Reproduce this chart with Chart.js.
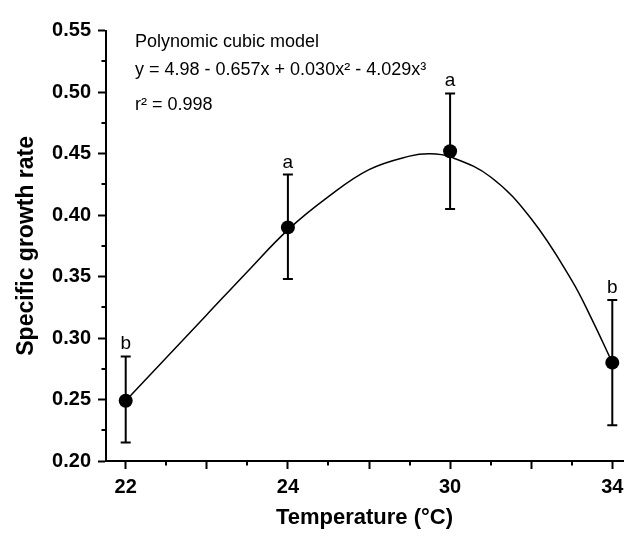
<!DOCTYPE html>
<html><head><meta charset="utf-8">
<script src="https://cdn.jsdelivr.net/npm/chart.js@4/dist/chart.umd.min.js"></script>
<style>html,body{margin:0;padding:0;background:#fff}canvas{display:block}</style>
</head><body>
<canvas id="c" width="630" height="536"></canvas>
<script>
// ---- data ----
const temperatures = ['22', '24', '30', '34'];
const growthRate = [0.249, 0.390, 0.452, 0.280];
const errorLow = [0.215, 0.348, 0.405, 0.229];
const errorHigh = [0.285, 0.433, 0.499, 0.331];
const groupLetters = ['b', 'a', 'a', 'b'];
const xTickLabels = ['22', '', '24', '', '30', '', '34'];
const yTickValues = [0.20, 0.25, 0.30, 0.35, 0.40, 0.45, 0.50, 0.55];
const yMinorValues = [0.225, 0.275, 0.325, 0.375, 0.425, 0.475, 0.525];
const curvePositions = [0, 0.5, 1, 1.5, 2, 2.5, 3, 3.5, 3.75, 4, 4.5, 5, 5.5, 5.75, 6];
const curveValues = [0.249, 0.284, 0.319, 0.354, 0.388, 0.415, 0.437, 0.448, 0.450, 0.4475, 0.431, 0.397, 0.347, 0.315, 0.280];
const annotationLines = ['Polynomic cubic model', 'y = 4.98 - 0.657x + 0.030x\u00B2 - 4.029x\u00B3', 'r\u00B2 = 0.998'];

const FONT = '"Liberation Sans", Arial, Helvetica, sans-serif';
const xPos = temperatures.map(t => xTickLabels.indexOf(t));

const overlay = {
  id: 'overlay',
  beforeDatasetsDraw(chart) {
    const {ctx, scales: {x, y}} = chart;
    ctx.save();
    ctx.strokeStyle = '#000';
    ctx.fillStyle = '#000';
    ctx.lineWidth = 2;
    ctx.beginPath();
    for (let k = 0; k < xTickLabels.length - 1; k++) {
      const px = Math.round(x.getPixelForValue(k + 0.5));
      ctx.moveTo(px, y.bottom); ctx.lineTo(px, y.bottom + 4.5);
    }
    yMinorValues.forEach(v => {
      const py = Math.round(y.getPixelForValue(v));
      ctx.moveTo(x.left - 4.5, py); ctx.lineTo(x.left, py);
    });
    ctx.stroke();
    temperatures.forEach((t, i) => {
      const px = x.getPixelForValue(xPos[i]);
      const lo = y.getPixelForValue(errorLow[i]);
      const hi = y.getPixelForValue(errorHigh[i]);
      ctx.beginPath();
      ctx.moveTo(px, lo); ctx.lineTo(px, hi);
      ctx.moveTo(px - 5, lo); ctx.lineTo(px + 5, lo);
      ctx.moveTo(px - 5, hi); ctx.lineTo(px + 5, hi);
      ctx.stroke();
      ctx.font = '19px ' + FONT;
      ctx.textAlign = 'center';
      ctx.textBaseline = 'alphabetic';
      ctx.fillText(groupLetters[i], px, hi - 7);
    });
    ctx.font = '18px ' + FONT;
    ctx.textAlign = 'left';
    const baselines = [47, 75, 110];
    annotationLines.forEach((s, i) => ctx.fillText(s, x.left + 29, baselines[i]));
    ctx.restore();
  }
};

new Chart(document.getElementById('c'), {
  type: 'scatter',
  data: {
    datasets: [
      {
        label: 'means',
        data: growthRate.map((v, i) => ({x: xPos[i], y: v})),
        pointRadius: 7, pointHoverRadius: 7,
        backgroundColor: '#000', borderColor: '#000', borderWidth: 0,
        showLine: false, order: 1
      },
      {
        label: 'cubic fit',
        data: curveValues.map((v, i) => ({x: curvePositions[i], y: v})),
        showLine: true, tension: 0.4,
        borderColor: '#000', borderWidth: 1.5, pointRadius: 0, fill: false, order: 2
      }
    ]
  },
  options: {
    responsive: false,
    animation: false,
    devicePixelRatio: 1,
    layout: {padding: {top: 30.7, right: 1, left: 0, bottom: 0}},
    plugins: {legend: {display: false}, tooltip: {enabled: false}},
    scales: {
      x: {
        type: 'linear', min: -0.243, max: 6.132, bounds: 'data',
        afterBuildTicks: s => { s.ticks = xTickLabels.map((_, i) => ({value: i})); },
        afterFit: s => { s.height = 75; },
        ticks: {
          autoSkip: false, maxRotation: 0, padding: 6, color: '#000',
          font: {family: FONT, size: 20, weight: 'bold'},
          callback: v => xTickLabels[Math.round(v)]
        },
        grid: {display: true, drawOnChartArea: false, drawTicks: true, tickLength: 8, tickWidth: 2, tickColor: '#000'},
        border: {display: true, color: '#000', width: 2},
        title: {display: true, text: 'Temperature (\u00B0C)', color: '#000',
          font: {family: FONT, size: 22, weight: 'bold'}, padding: {top: 0, bottom: 5}}
      },
      y: {
        min: 0.2, max: 0.55, bounds: 'data',
        afterBuildTicks: s => { s.ticks = yTickValues.map(v => ({value: v})); },
        afterFit: s => { s.width = 106; },
        ticks: {
          padding: 7, color: '#000',
          font: {family: FONT, size: 20, weight: 'bold'},
          callback: v => Number(v).toFixed(2)
        },
        grid: {display: true, drawOnChartArea: false, drawTicks: true, tickLength: 8, tickWidth: 2, tickColor: '#000'},
        border: {display: true, color: '#000', width: 2},
        title: {display: true, text: 'Specific growth rate', color: '#000',
          font: {family: FONT, size: 23, weight: 'bold'}, padding: {top: 13, bottom: 0}}
      }
    }
  },
  plugins: [overlay]
});
</script>
</body></html>
